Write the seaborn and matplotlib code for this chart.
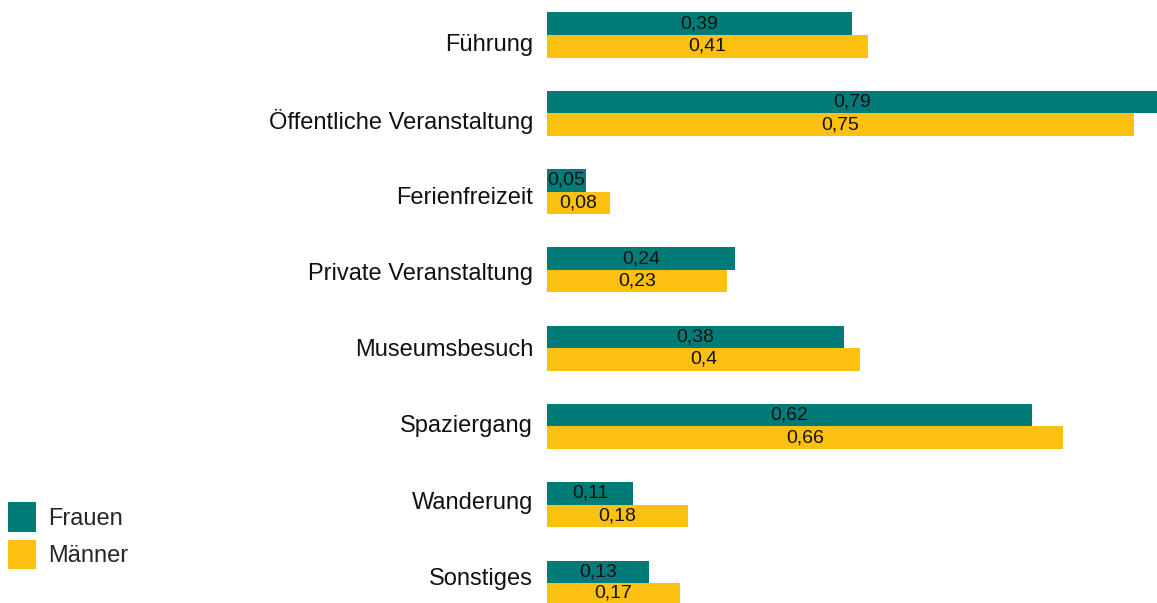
import pandas as pd
import matplotlib
matplotlib.use("Agg")
import matplotlib.pyplot as plt
import seaborn as sns

# Daten
kategorien = ["Führung", "Öffentliche Veranstaltung", "Ferienfreizeit",
              "Private Veranstaltung", "Museumsbesuch", "Spaziergang",
              "Wanderung", "Sonstiges"]
frauen = [0.39, 0.79, 0.05, 0.24, 0.38, 0.62, 0.11, 0.13]
maenner = [0.41, 0.75, 0.08, 0.23, 0.40, 0.66, 0.18, 0.17]
gruppen = ["Frauen", "Männer"]
farben = ["#007B77", "#FCC010"]

df = pd.DataFrame({
    "Kategorie": kategorien * 2,
    "Wert": frauen + maenner,
    "Gruppe": [gruppen[0]] * len(frauen) + [gruppen[1]] * len(maenner),
})

sns.set_style("white")
plt.rcParams["font.family"] = ["Liberation Sans", "DejaVu Sans"]

fig = plt.figure(figsize=(11.57, 6.03), dpi=100)
ax = fig.add_axes([547 / 1157, 0, 1 - 547 / 1157, 1])

sns.barplot(data=df, x="Wert", y="Kategorie", hue="Gruppe", orient="h",
            palette=farben, width=0.575, gap=0, saturation=1, linewidth=0,
            ax=ax)

for cont in ax.containers:
    werte = cont.datavalues
    ax.bar_label(cont, labels=[f"{v:g}".replace(".", ",") for v in werte],
                 label_type="center", fontsize=14, color="#111111")

ax.set_xlim(0, 0.78)
ax.set_ylim(7.255, -0.447)
# Beschriftungen stehen im Original etwas enger als die Balken
ax.set_yticks([0.096 + i * 0.974 for i in range(len(kategorien))], kategorien)
ax.set_xlabel("")
ax.set_ylabel("")
ax.set_xticks([])
ax.tick_params(axis="y", length=0, pad=10, labelsize=17, labelcolor="#111111")
sns.despine(ax=ax, left=True, bottom=True)

handles, labels = ax.get_legend_handles_labels()
ax.legend_.remove()
fig.legend(handles, labels, loc="upper left", bbox_to_anchor=(8 / 1157, 1 - 502 / 603),
           frameon=False, fontsize=17, handlelength=1.2, handleheight=1.55,
           handletextpad=0.5, labelspacing=0.35, borderpad=0, borderaxespad=0)

fig.savefig("out.png", dpi=100)
